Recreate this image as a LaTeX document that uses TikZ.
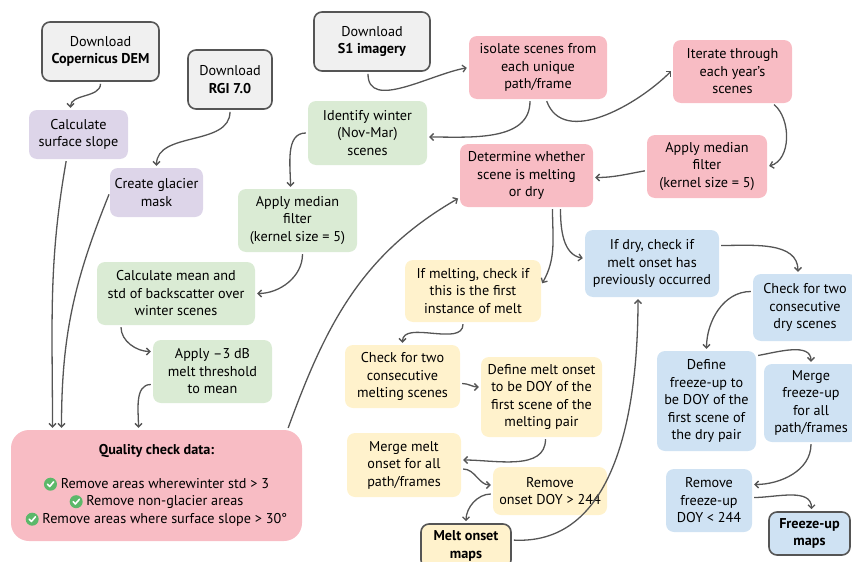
\documentclass[tikz,border=0pt]{standalone}
\usepackage{fontspec}
\setmainfont{PT Sans}
\usepackage{tikz}
\usetikzlibrary{arrows.meta, positioning, shapes}
\definecolor{srcgray}{HTML}{F0F0F0}
\definecolor{edgegray}{HTML}{555555}
\definecolor{boxpink}{HTML}{F8BCC4}
\definecolor{boxpurple}{HTML}{DDD5E9}
\definecolor{boxgreen}{HTML}{DAEBD4}
\definecolor{boxyellow}{HTML}{FFF2CC}
\definecolor{boxblue}{HTML}{CFE2F3}
\definecolor{okgreen}{HTML}{5CB86A}
\tikzstyle{box} = [rectangle, rounded corners=8pt, align=center, inner sep=1pt,
	font=\fontsize{14.2}{17.5}\selectfont]
\tikzstyle{source} = [box, draw=edgegray, line width=1.6pt, fill=srcgray]
\tikzstyle{pinkstep} = [box, fill=boxpink]
\tikzstyle{purplestep} = [box, fill=boxpurple]
\tikzstyle{greenstep} = [box, fill=boxgreen]
\tikzstyle{yellowstep} = [box, fill=boxyellow]
\tikzstyle{bluestep} = [box, fill=boxblue]
\tikzstyle{line} = [draw, edgegray, line width=1.3pt,
	-{Straight Barb[length=3.5pt, width=7pt]}, shorten >=2pt, shorten <=2pt]
\tikzset{wh/.style 2 args={minimum width=#1pt, minimum height=#2pt}}
\newcommand{\okmark}{\tikz[baseline=-4.2pt, x=1pt, y=1pt, sharp corners]{
	\fill[okgreen] (0,0) circle (6.5pt);
	\draw[white, line width=1.6pt, line cap=round, line join=round]
	(-3,0) -- (-0.8,-2.3) -- (3.2,2.4);}}

\begin{document}
\begin{tikzpicture}[x=1pt, y=-1pt]
		\useasboundingbox (0,0) rectangle (852,562);

		\node [source, wh={117}{59}] (dem) at (100.5,51.5) {Download\\\textbf{Copernicus DEM}};
		\node [source, wh={84}{59}] (rgi) at (230,79.5) {Download\\\textbf{RGI 7.0}};
		\node [source, wh={116}{59}] (s1) at (372,41.5) {Download\\\textbf{S1 imagery}};

		\node [pinkstep, wh={138}{63}] (isolate) at (538,67.5) {isolate scenes from\\each unique\\path/frame};
		\node [pinkstep, wh={119}{63}] (iterate) at (732.5,71.5) {Iterate through\\each year’s\\scenes};
		\node [pinkstep, wh={120}{63}] (median2) at (707,166.5) {Apply median\\filter\\(kernel size = 5)};
		\node [pinkstep, wh={133}{63}] (determine) at (526.5,175.5) {Determine whether\\scene is melting\\or dry};

		\node [purplestep, wh={99}{49}] (slope) at (78.5,134.5) {Calculate\\surface slope};
		\node [purplestep, wh={93}{49}] (mask) at (156.5,192.5) {Create glacier\\mask};

		\node [greenstep, wh={119}{64}] (winter) at (367.5,133) {Identify winter\\(Nov-Mar)\\scenes};
		\node [greenstep, wh={119}{63}] (median1) at (297.5,220.5) {Apply median\\filter\\(kernel size = 5)};
		\node [greenstep, wh={158}{63}] (mean) at (176,293.5) {Calculate mean and\\std of backscatter over\\winter scenes};
		\node [greenstep, wh={119}{63}] (thresh) at (212.5,371.5) {Apply –3 dB\\melt threshold\\to mean};

		\node [pinkstep, wh={291}{111}, rounded corners=18pt] (quality) at (156.5,485.5)
			{\textbf{Quality check data:}\\[16pt]
			\okmark{} Remove areas wherewinter std > 3\\
			\okmark{} Remove non-glacier areas\\
			\okmark{} Remove areas where surface slope > 30°};

		\node [yellowstep, wh={136}{62}] (firstmelt) at (473,291) {If melting, check if\\this is the first\\instance of melt};
		\node [yellowstep, wh={115}{63}] (twomelt) at (402.5,376.5) {Check for two\\consecutive\\melting scenes};
		\node [yellowstep, wh={121}{80}] (defmelt) at (541.5,397) {Define melt onset\\to be DOY of the\\first scene of the\\melting pair};
		\node [yellowstep, wh={114}{64}] (mergemelt) at (404,465) {Merge melt\\onset for all\\path/frames};
		\node [yellowstep, wh={114}{48}] (cutmelt) at (550,491) {Remove\\onset DOY > 244};
		\node [yellowstep, draw=edgegray, line width=1.6pt, wh={90}{44}] (meltmaps) at (466,546) {\textbf{Melt onset}\\\textbf{maps}};

		\node [bluestep, wh={134}{67}] (ifdry) at (652,263.5) {If dry, check if\\melt onset has\\previously occurred};
		\node [bluestep, wh={104}{67}] (twodry) at (805,307.5) {Check for two\\consecutive\\dry scenes};
		\node [bluestep, wh={99}{100}] (deffreeze) at (706.5,401) {Define\\freeze-up to\\be DOY of the\\first scene of\\the dry pair};
		\node [bluestep, wh={94}{78}] (mergefreeze) at (811,403) {Merge\\freeze-up\\for all\\path/frames};
		\node [bluestep, wh={86}{63}] (cutfreeze) at (709,500.5) {Remove\\freeze-up\\DOY < 244};
		\node [bluestep, draw=edgegray, line width=1.6pt, wh={81}{43}] (freezemaps) at (809.5,533.5) {\textbf{Freeze-up}\\\textbf{maps}};

		\path [line] (dem.south) to[out=-90, in=90] ([xshift=-8pt]slope.north);
		\path [line] (rgi.south) to[out=-90, in=90] (mask.north);
		\path [line] ([xshift=-4pt]s1.south) to[out=-90, in=190] (isolate.west);
		\path [line] ([xshift=-8pt]isolate.south) to[out=-90, in=0] ([yshift=-4pt]winter.east);
		\path [line] ([xshift=8pt]isolate.south) to[out=-70, in=225] ([yshift=2pt]iterate.west);
		\path [line] ([xshift=40pt]iterate.south) to[out=-40, in=15] (median2.east);
		\path [line] ([yshift=-4pt]median2.west) to[out=190, in=0] ([yshift=-2pt]determine.east);
		\path [line] (winter.west) to[out=180, in=90] ([xshift=-7pt]median1.north);
		\path [line] ([xshift=5pt]median1.south) to[out=-90, in=0] (mean.east);
		\path [line] ([xshift=-55pt]mean.south) to[out=-90, in=180] ([yshift=20pt]thresh.west);
		\path [line] ([yshift=-13pt]thresh.west) to[out=180, in=90] ([xshift=-18pt]quality.north);
		\path [line] ([xshift=-12pt]slope.south) to[out=-100, in=90] ([xshift=-104pt]quality.north);
		\path [line] (mask.west) to[out=-112, in=90] ([xshift=-95pt]quality.north);
		\path [line] ([xshift=131pt]quality.north) to[out=70, in=210] ([yshift=-22pt]determine.west);
		\path [line] ([xshift=26pt]determine.south) to[out=-90, in=60] ([yshift=6pt]firstmelt.east);
		\path [line] ([xshift=34pt]determine.south) to[out=-90, in=170] ([yshift=5pt]ifdry.west);
		\path [line] ([xshift=-10pt]firstmelt.south) to[out=-90, in=90] (twomelt.north);
		\path [line] ([yshift=-7pt]twomelt.east) to[out=0, in=180] ([yshift=10pt]defmelt.west);
		\path [line] ([xshift=4pt]defmelt.south) to[out=-90, in=0] ([yshift=5pt]mergemelt.east);
		\path [line] ([yshift=-4pt]mergemelt.east) to[out=0, in=180] ([yshift=6pt]cutmelt.west);
		\path [line] ([yshift=-3pt]cutmelt.west) to[out=180, in=90] (meltmaps.north);
		\path [line] ([yshift=6pt]meltmaps.east) to[out=-3, in=-90] ([xshift=-14pt]ifdry.south);
		\path [line] ([yshift=18pt]ifdry.east) to[out=0, in=90] ([xshift=-7pt]twodry.north);
		\path [line] ([yshift=16pt]twodry.west) to[out=180, in=90] (deffreeze.north);
		\path [line] ([yshift=-5pt]deffreeze.north east) to[out=10, in=90] (mergefreeze.north);
		\path [line] (mergefreeze.south) to[out=-90, in=0] ([yshift=16pt]cutfreeze.east);
		\path [line] ([yshift=3pt]cutfreeze.east) to[out=0, in=90] ([xshift=2pt]freezemaps.north);
	\end{tikzpicture}
\end{document}
